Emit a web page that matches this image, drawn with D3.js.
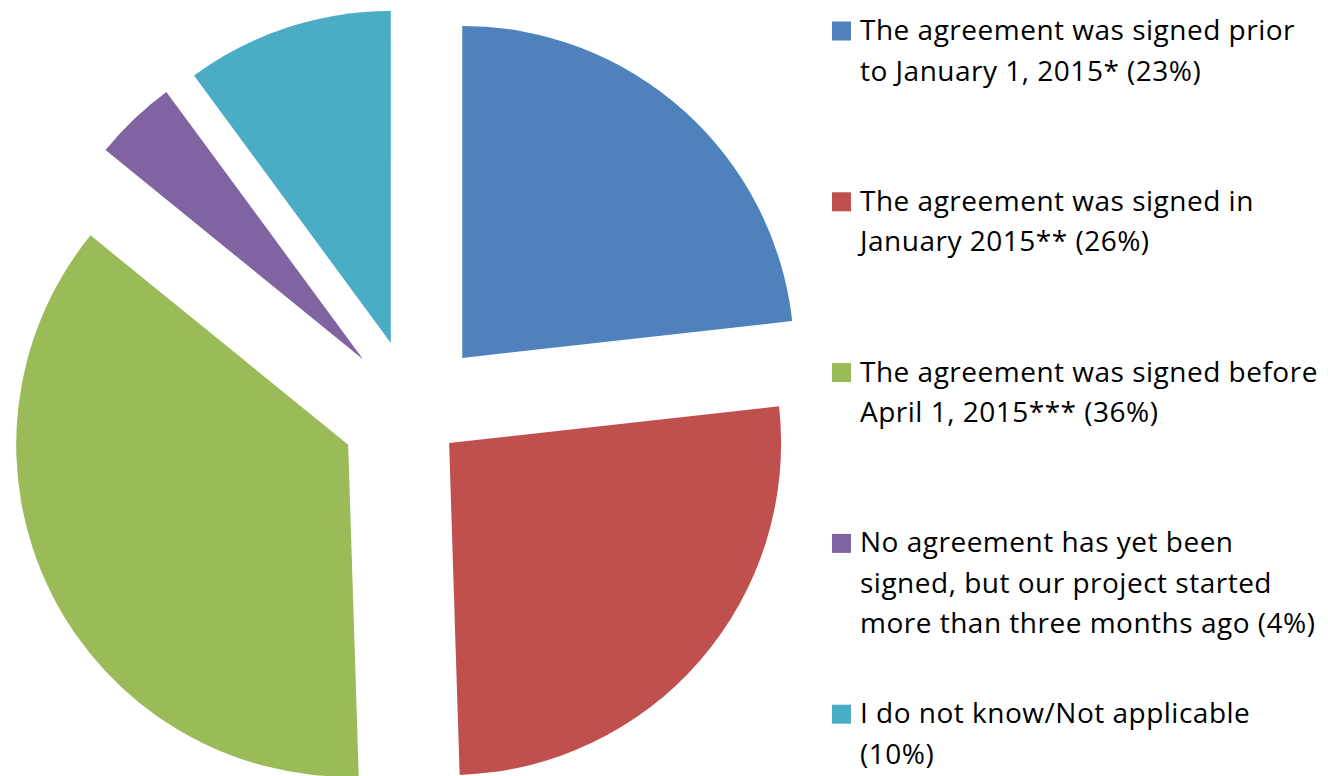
<!DOCTYPE html>
<html>
<head>
<meta charset="utf-8">
<script src="https://cdn.jsdelivr.net/npm/d3@7"></script>
<style>
  html, body { margin: 0; padding: 0; background: #fff; }
  svg { display: block; }
</style>
</head>
<body>
<svg id="chart" width="1328" height="776"></svg>
<script>
// Survey answers, one entry per slice (clockwise from 12 o'clock)
const categories = [
  "The agreement was signed prior to January 1, 2015*",
  "The agreement was signed in January 2015**",
  "The agreement was signed before April 1, 2015***",
  "No agreement has yet been signed, but our project started more than three months ago",
  "I do not know/Not applicable"
];
const values = [23, 26, 36, 4, 10];

// Legend text, already broken into lines
const legendLines = [
  ["The agreement was signed prior", "to January 1, 2015* (23%)"],
  ["The agreement was signed in", "January 2015** (26%)"],
  ["The agreement was signed before", "April 1, 2015*** (36%)"],
  ["No agreement has yet been", "signed, but our project started", "more than three months ago (4%)"],
  ["I do not know/Not applicable", "(10%)"]
];

// Styling / layout
const colors = ["#4F81BD", "#C0504D", "#9BBB59", "#8064A2", "#4BACC6"];
const explode = [73, 47, 73, 73, 73];   // outward offset of each slice, px
const cx = 413.6, cy = 412.3, radius = 332;

const svg = d3.select("#chart");

const pie = d3.pie().sort(null).value(d => d)
  .startAngle(0).endAngle(2 * Math.PI);
const arc = d3.arc().innerRadius(0).outerRadius(radius);

const arcs = pie(values);

svg.append("g")
  .selectAll("path")
  .data(arcs)
  .join("path")
  .attr("d", arc)
  .attr("fill", (d, i) => colors[i])
  .attr("transform", (d, i) => {
    const mid = (d.startAngle + d.endAngle) / 2;
    const dx = cx + explode[i] * Math.sin(mid);
    const dy = cy - explode[i] * Math.cos(mid);
    return `translate(${dx},${dy})`;
  });

// Legend
const legendX = 832, legendY0 = 40, itemStep = 170.8, lineStep = 40.5, sw = 19;
const fontSize = 28;

const items = svg.append("g")
  .selectAll("g")
  .data(legendLines)
  .join("g")
  .attr("transform", (d, i) => `translate(${legendX},${legendY0 + i * itemStep})`);

items.append("rect")
  .attr("x", 0).attr("y", -18.5)
  .attr("width", sw).attr("height", sw)
  .attr("fill", (d, i) => colors[i]);

items.append("text")
  .attr("x", 28)
  .attr("font-family", "'Open Sans', Lato, sans-serif")
  .attr("font-size", fontSize)
  .attr("letter-spacing", 0.5)
  .attr("fill", "#000")
  .selectAll("tspan")
  .data(d => d)
  .join("tspan")
  .attr("x", 28)
  .attr("y", (d, j) => j * lineStep)
  .text(d => d);
</script>
</body>
</html>
